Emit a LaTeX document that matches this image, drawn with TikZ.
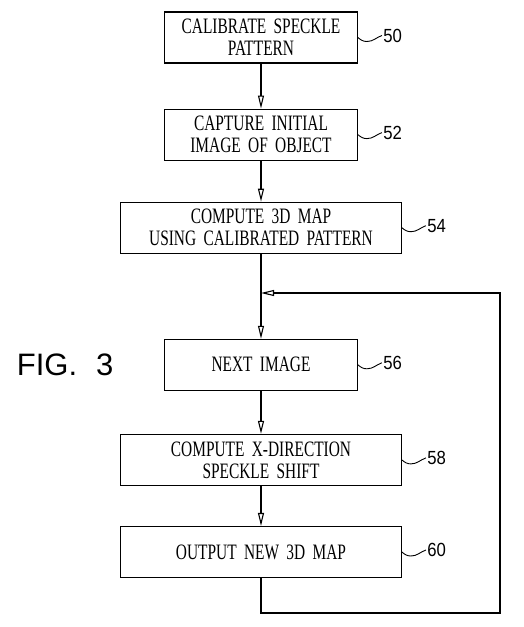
\documentclass[tikz,border=0pt]{standalone}
\usepackage{fontspec}
\usepackage{tikz}
\usetikzlibrary{positioning,arrows.meta}
\newfontfamily\boxfont[FakeStretch=0.7,WordSpace=2]{Liberation Serif}
\newfontfamily\tagfont[FakeStretch=0.88]{Liberation Sans}
\newfontfamily\figfont[WordSpace=2.2]{Liberation Sans}

\tikzset{
	stepbox/.style={draw, line width=1.1pt, rectangle, align=center, minimum height=51pt,
		text width=#1, font=\boxfont\fontsize{22}{22}\selectfont},
	stepbox/.default=186pt,
	tag/.style={line width=0.9pt},
	tagtext/.style={anchor=west, inner sep=1pt, font=\tagfont\fontsize{19}{19}\selectfont}
}

\begin{document}
\begin{tikzpicture}[-{Triangle[open,length=13pt,width=6pt]}, line width=1.1pt, node distance=44pt]
	\useasboundingbox (0,0) rectangle (523pt,-627pt);

	\node (cal) [stepbox] at (261pt,-37.5pt) {CALIBRATE SPECKLE\\PATTERN};
	\node (cap) [stepbox, below=45pt of cal] {CAPTURE INITIAL\\IMAGE OF OBJECT};
	\node (map) [stepbox=274pt, below=41pt of cap] {COMPUTE 3D MAP\\USING CALIBRATED PATTERN};
	\node (next) [stepbox, below=85pt of map] {NEXT IMAGE};
	\node (shift) [stepbox=274pt, below=43pt of next] {COMPUTE X-DIRECTION\\SPECKLE SHIFT};
	\node (out) [stepbox=274pt, below=40pt of shift] {OUTPUT NEW 3D MAP};

	\node (fig) [anchor=base west, font=\figfont\fontsize{31}{31}\selectfont] at (13pt,-375pt) {FIG. 3};

	\coordinate (ret) at (261pt,-293pt);
	\coordinate (far) at (500pt,-613pt);

	\draw (cal) -- (cap);
	\draw (cap) -- (map);
	\draw (map) -- (next);
	\draw (next) -- (shift);
	\draw (shift) -- (out);
	\draw (out.south) |- (far) |- (ret);

	% reference numerals
	\draw[tag, -] (cal.east) to[out=-40,in=180] ++(9pt,-4pt) to[out=0,in=200] ++(15pt,6pt) node[tagtext] {50};
	\draw[tag, -] (cap.east) to[out=-40,in=180] ++(9pt,-4pt) to[out=0,in=200] ++(15pt,6pt) node[tagtext] {52};
	\draw[tag, -] (map.east) to[out=-40,in=180] ++(9pt,-4pt) to[out=0,in=200] ++(15pt,6pt) node[tagtext] {54};
	\draw[tag, -] (next.east) to[out=-40,in=180] ++(9pt,-4pt) to[out=0,in=200] ++(15pt,6pt) node[tagtext] {56};
	\draw[tag, -] (shift.east) to[out=-40,in=180] ++(9pt,-4pt) to[out=0,in=200] ++(15pt,6pt) node[tagtext] {58};
	\draw[tag, -] (out.east) to[out=-40,in=180] ++(9pt,-4pt) to[out=0,in=200] ++(15pt,6pt) node[tagtext] {60};
\end{tikzpicture}
\end{document}
